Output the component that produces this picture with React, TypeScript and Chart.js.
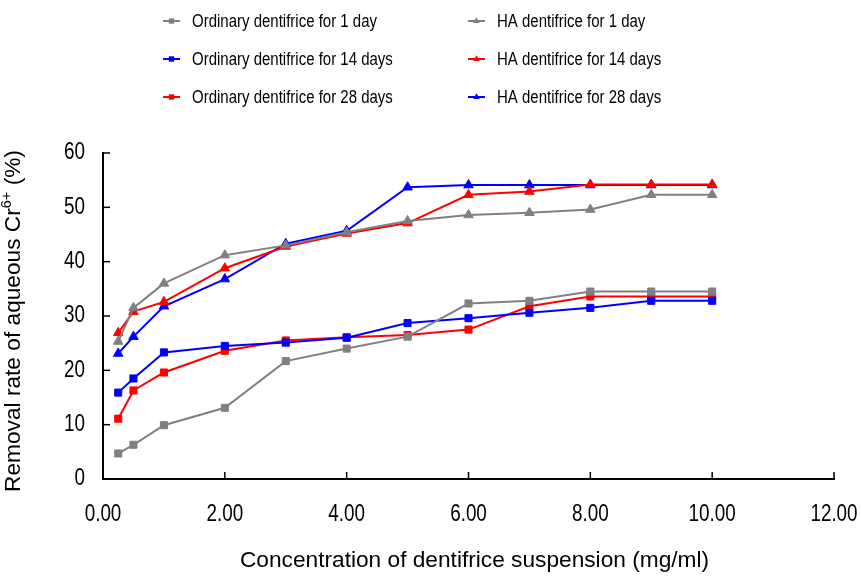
import React, { useEffect, useRef } from "react";
import { Chart, registerables } from "chart.js";
Chart.register(...registerables);

// ---- data ----
const concentrations = [0.25, 0.5, 1, 2, 3, 4, 5, 6, 7, 8, 9, 10];
const ordinary1 = [4.7, 6.3, 9.9, 13.1, 21.7, 24.0, 26.2, 32.3, 32.8, 34.5, 34.5, 34.5];
const ordinary14 = [15.9, 18.5, 23.3, 24.5, 25.1, 26.0, 28.7, 29.6, 30.6, 31.5, 32.8, 32.8];
const ordinary28 = [11.1, 16.3, 19.6, 23.6, 25.5, 26.1, 26.5, 27.5, 31.8, 33.6, 33.6, 33.6];
const ha1 = [25.3, 31.5, 36.0, 41.2, 43.0, 45.4, 47.5, 48.6, 49.0, 49.6, 52.3, 52.3];
const ha14 = [26.9, 30.8, 32.6, 38.8, 42.8, 45.2, 47.1, 52.3, 52.9, 54.2, 54.2, 54.2];
const ha28 = [23.1, 26.2, 31.8, 36.8, 43.3, 45.7, 53.7, 54.1, 54.1, 54.1, 54.1, 54.1];

const seriesLabels = [
  "Ordinary dentifrice for 1 day",
  "Ordinary dentifrice for 14 days",
  "Ordinary dentifrice for 28 days",
  "HA dentifrice for 1 day",
  "HA dentifrice for 14 days",
  "HA dentifrice for 28 days",
];
const seriesValues = [ordinary1, ordinary14, ordinary28, ha1, ha14, ha28];
const seriesColors = ["#808080", "#0000ff", "#ff0000", "#808080", "#ff0000", "#0000ff"];
const seriesMarkers = ["rect", "rect", "rect", "triangle", "triangle", "triangle"];

const xTitle = "Concentration of dentifrice suspension (mg/ml)";
const yTitleMain = "Removal rate of aqueous Cr";
const yTitleSup = "6+";
const yTitleEnd = " (%)";

// "NarrowSim" is a marker family: text in it is drawn horizontally condensed
const MARK = "NarrowSim";
const K = 0.82;
const NARROW = `${MARK}, "Liberation Sans", Arial, sans-serif`;
const REGULAR = '"Liberation Sans", Arial, sans-serif';

function condense(ctx: CanvasRenderingContext2D) {
  const anyCtx = ctx as any;
  if (anyCtx.__condensed) return;
  anyCtx.__condensed = true;
  const origFill = ctx.fillText.bind(ctx);
  const origMeasure = ctx.measureText.bind(ctx);
  anyCtx.fillText = (text: string, x: number, y: number, maxWidth?: number) => {
    if (ctx.font.indexOf(MARK) >= 0) {
      ctx.save();
      ctx.translate(x, y);
      ctx.scale(K, 1);
      if (maxWidth !== undefined && maxWidth !== null) origFill(text, 0, 0, maxWidth / K);
      else origFill(text, 0, 0);
      ctx.restore();
    } else if (maxWidth !== undefined && maxWidth !== null) origFill(text, x, y, maxWidth);
    else origFill(text, x, y);
  };
  anyCtx.measureText = (text: string) => {
    const m = origMeasure(text);
    if (ctx.font.indexOf(MARK) >= 0) {
      return {
        width: m.width * K,
        actualBoundingBoxLeft: m.actualBoundingBoxLeft * K,
        actualBoundingBoxRight: m.actualBoundingBoxRight * K,
        actualBoundingBoxAscent: m.actualBoundingBoxAscent,
        actualBoundingBoxDescent: m.actualBoundingBoxDescent,
        fontBoundingBoxAscent: (m as any).fontBoundingBoxAscent,
        fontBoundingBoxDescent: (m as any).fontBoundingBoxDescent,
      };
    }
    return m;
  };
}

function drawMarker(ctx: CanvasRenderingContext2D, style: string, x: number, y: number, r: number, color: string) {
  ctx.fillStyle = color;
  ctx.beginPath();
  if (style === "rect") {
    const s = r * Math.SQRT1_2;
    ctx.rect(x - s, y - s, 2 * s, 2 * s);
  } else {
    let rad = 0;
    ctx.moveTo(x + Math.sin(rad) * r, y - Math.cos(rad) * r);
    rad += (2 * Math.PI) / 3;
    ctx.lineTo(x + Math.sin(rad) * r, y - Math.cos(rad) * r);
    rad += (2 * Math.PI) / 3;
    ctx.lineTo(x + Math.sin(rad) * r, y - Math.cos(rad) * r);
    ctx.closePath();
  }
  ctx.fill();
}

const decorPlugin = {
  id: "decor",
  afterDraw(chart: any) {
    const ctx: CanvasRenderingContext2D = chart.ctx;
    const xs = chart.scales.x;
    const ys = chart.scales.y;
    ctx.save();
    // inward tick marks
    ctx.strokeStyle = "#000";
    ctx.lineWidth = 1.5;
    xs.ticks.forEach((t: any) => {
      if (t.value === 0) return;
      const px = xs.getPixelForValue(t.value);
      ctx.beginPath();
      ctx.moveTo(px, ys.bottom);
      ctx.lineTo(px, ys.bottom - 7);
      ctx.stroke();
    });
    ys.ticks.forEach((t: any) => {
      if (t.value === 0) return;
      const py = ys.getPixelForValue(t.value);
      ctx.beginPath();
      ctx.moveTo(xs.left, py);
      ctx.lineTo(xs.left + 7, py);
      ctx.stroke();
    });

    // legend (two columns)
    ctx.font = `18.3px ${NARROW}`;
    ctx.textBaseline = "middle";
    ctx.textAlign = "left";
    seriesLabels.forEach((label, i) => {
      const col = i < 3 ? 0 : 1;
      const row = i % 3;
      const x0 = col === 0 ? 163 : 468;
      const y = 21 + row * 38;
      const c = seriesColors[i];
      ctx.strokeStyle = c;
      ctx.lineWidth = 2;
      ctx.beginPath();
      ctx.moveTo(x0, y);
      ctx.lineTo(x0 + 17, y);
      ctx.stroke();
      drawMarker(ctx, seriesMarkers[i], x0 + 8.5, y, 3.8, c);
      ctx.fillStyle = "#000";
      ctx.fillText(label, x0 + 29, y + 1);
    });

    // y title (rotated, with superscript)
    ctx.save();
    ctx.translate(20, 321);
    ctx.rotate(-Math.PI / 2);
    ctx.textBaseline = "alphabetic";
    ctx.textAlign = "left";
    ctx.fillStyle = "#000";
    const mainFont = `22.7px ${REGULAR}`;
    const supFont = `14.5px ${REGULAR}`;
    ctx.font = mainFont;
    const w1 = ctx.measureText(yTitleMain).width;
    const w3 = ctx.measureText(yTitleEnd).width;
    ctx.font = supFont;
    const w2 = ctx.measureText(yTitleSup).width;
    const total = w1 + w2 + w3;
    let cx = -total / 2;
    ctx.font = mainFont;
    ctx.fillText(yTitleMain, cx, 0);
    cx += w1;
    ctx.font = supFont;
    ctx.fillText(yTitleSup, cx, -9);
    cx += w2;
    ctx.font = mainFont;
    ctx.fillText(yTitleEnd, cx, 0);
    ctx.restore();

    // x title
    ctx.font = `22.7px ${REGULAR}`;
    ctx.textAlign = "center";
    ctx.textBaseline = "alphabetic";
    ctx.fillStyle = "#000";
    ctx.fillText(xTitle, (xs.left + xs.right) / 2 + 6, 567);
    ctx.restore();
  },
};

export default function App() {
  const ref = useRef<HTMLCanvasElement | null>(null);
  useEffect(() => {
    document.body.style.margin = "0";
    const canvas = ref.current;
    if (!canvas) return;
    const ctx2d = canvas.getContext("2d");
    if (ctx2d) condense(ctx2d);
    const datasets = seriesValues.map((vals, i) => ({
      label: seriesLabels[i],
      data: concentrations.map((x, j) => ({ x, y: vals[j] })),
      borderColor: seriesColors[i],
      backgroundColor: seriesColors[i],
      pointBackgroundColor: seriesColors[i],
      pointBorderColor: seriesColors[i],
      pointStyle: seriesMarkers[i],
      pointRadius: seriesMarkers[i] === "rect" ? 5 : 5.5,
      pointBorderWidth: 1,
      borderWidth: 2,
      tension: 0,
      fill: false,
    }));
    const chart = new Chart(canvas, {
      type: "line",
      data: { datasets },
      options: {
        animation: false,
        responsive: false,
        maintainAspectRatio: false,
        layout: { padding: { top: 153, right: 27, left: 0, bottom: 0 } },
        plugins: { legend: { display: false }, tooltip: { enabled: false } },
        scales: {
          x: {
            type: "linear",
            min: 0,
            max: 12,
            grid: { display: false, drawTicks: false },
            border: { display: true, color: "#000", width: 2 },
            ticks: {
              stepSize: 2,
              padding: 22,
              color: "#000",
              font: { family: NARROW, size: 23 },
              callback: (v: any) => Number(v).toFixed(2),
              maxRotation: 0,
            },
            afterFit: (s: any) => {
              s.height = 97;
              s.paddingLeft = 0;
              s.paddingRight = 0;
            },
          },
          y: {
            min: 0,
            max: 60,
            grid: { display: false, drawTicks: false },
            border: { display: true, color: "#000", width: 2 },
            ticks: {
              stepSize: 10,
              padding: 18,
              color: "#000",
              font: { family: NARROW, size: 23 },
            },
            afterFit: (s: any) => {
              s.width = 103;
              s.paddingTop = 0;
              s.paddingBottom = 0;
            },
          },
        },
      },
      plugins: [decorPlugin],
    } as any);
    return () => chart.destroy();
  }, []);
  return (
    <div style={{ width: 861, height: 576, background: "#fff" }}>
      <canvas ref={ref} width={861} height={576} />
    </div>
  );
}
